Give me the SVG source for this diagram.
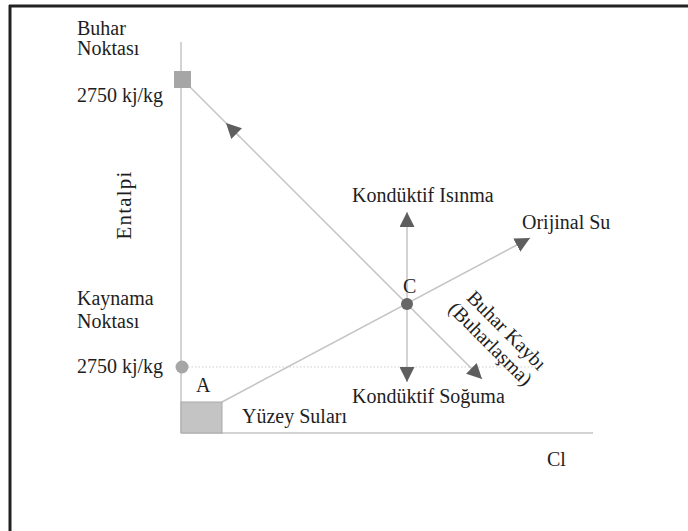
<svg xmlns="http://www.w3.org/2000/svg" width="688" height="531" viewBox="0 0 688 531">
<defs>
<style>
text{font-family:"Liberation Serif","Times New Roman",serif;font-size:20px;fill:#1e1e1e}
.ln{stroke:#c4c4c4;stroke-width:1.5;fill:none}
.ar{stroke:#c4c4c4;stroke-width:1.5;fill:none;marker-end:url(#ah)}
</style>
<marker id="ah" viewBox="0 0 15 15" markerWidth="15" markerHeight="15" refX="15" refY="7.5" orient="auto" markerUnits="userSpaceOnUse">
<path d="M0,0 L15,7.5 L0,15 z" fill="#5e5e5e"/>
</marker>
</defs>
<rect width="688" height="531" fill="#fff"/>
<g id="frame">
<line x1="9" y1="6" x2="688" y2="6" stroke="#222" stroke-width="3"/>
<line x1="10" y1="5" x2="10" y2="531" stroke="#222" stroke-width="3"/>
</g>
<g id="connectors">
<line class="ln" x1="181" y1="42" x2="181" y2="433"/>
<line class="ln" x1="181" y1="433" x2="593" y2="433"/>
<line x1="188" y1="367" x2="545" y2="367" stroke="#cfcfcf" stroke-width="1.2" stroke-dasharray="1.5,2"/>
<line class="ar" x1="190" y1="87" x2="482" y2="379"/>
<line class="ar" x1="240" y1="137" x2="226" y2="123"/>
<line class="ar" x1="222" y1="402" x2="530" y2="238"/>
<line class="ar" x1="407" y1="304" x2="407" y2="212"/>
<line class="ar" x1="407" y1="304" x2="407" y2="382"/>
</g>
<g id="buhar-noktasi">
<rect x="174" y="71" width="17" height="17" fill="#a6a6a6"/>
<text x="77" y="35">Buhar</text>
<text x="77" y="55">Noktası</text>
<text x="77" y="102">2750 kj/kg</text>
</g>
<g id="entalpi">
<text transform="translate(131,205) rotate(-90)" text-anchor="middle" style="font-size:21px;letter-spacing:1.2px">Entalpi</text>
</g>
<g id="kaynama-noktasi">
<circle cx="182" cy="367" r="6.5" fill="#a6a6a6"/>
<text x="77" y="305">Kaynama</text>
<text x="77" y="328">Noktası</text>
<text x="77" y="373">2750 kj/kg</text>
</g>
<g id="A">
<rect x="181" y="402" width="41" height="31" fill="#c4c4c4" stroke="#aaa" stroke-width="1"/>
<text x="196" y="392">A</text>
<text x="242" y="423">Yüzey Suları</text>
</g>
<g id="C">
<circle cx="407" cy="304" r="6" fill="#666"/>
<text x="403" y="293">C</text>
</g>
<g id="labels">
<text x="352" y="202">Kondüktif Isınma</text>
<text x="522" y="229">Orijinal Su</text>
<text x="352" y="403">Kondüktif Soğuma</text>
<g transform="translate(502,335) rotate(45)">
<text x="0" y="0" text-anchor="middle">Buhar Kaybı</text>
<text x="-2" y="21" text-anchor="middle">(Buharlaşma)</text>
</g>
<text x="547" y="466">Cl</text>
</g>
</svg>
